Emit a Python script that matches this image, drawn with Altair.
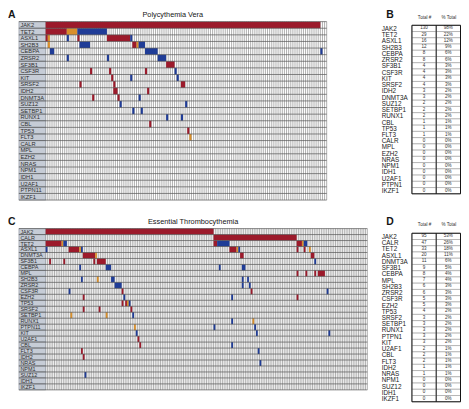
import json
import altair as alt
import pandas as pd

FONT = "Liberation Sans"
KINDS = ["missense", "truncating", "other"]
KIND_COLORS = ["#9c1a2b", "#1f3c97", "#d98f2a"]

# ---------------- Polycythemia Vera ----------------
PV_GENES = ["JAK2", "TET2", "ASXL1", "SH2B3", "CEBPA", "ZRSR2", "SF3B1", "CSF3R", "KIT",
            "SRSF2", "IDH2", "DNMT3A", "SUZ12", "SETBP1", "RUNX1", "CBL", "TP53", "FLT3",
            "CALR", "MPL", "EZH2", "NRAS", "NPM1", "IDH1", "U2AF1", "PTPN11", "IKZF1"]
PV_PATIENTS = 133
PV_SEGMENTS = [
    ("JAK2", 0, 130, "missense"),
    ("TET2", 0, 10, "missense"), ("TET2", 10, 15, "other"), ("TET2", 15, 29, "truncating"),
    ("ASXL1", 0, 1, "missense"), ("ASXL1", 1, 2, "other"), ("ASXL1", 10, 11, "truncating"),
    ("ASXL1", 15, 16, "missense"), ("ASXL1", 29, 40, "missense"), ("ASXL1", 40, 41, "truncating"),
    ("SH2B3", 1, 2, "other"), ("SH2B3", 16, 21, "truncating"), ("SH2B3", 41, 43, "missense"),
    ("SH2B3", 43, 44, "other"), ("SH2B3", 44, 47, "truncating"),
    ("CEBPA", 2, 4, "truncating"), ("CEBPA", 47, 53, "truncating"), ("CEBPA", 130, 131, "truncating"),
    ("ZRSR2", 10, 11, "truncating"), ("ZRSR2", 29, 30, "truncating"), ("ZRSR2", 53, 57, "truncating"),
    ("SF3B1", 57, 61, "missense"),
    ("CSF3R", 21, 22, "missense"), ("CSF3R", 30, 31, "missense"), ("CSF3R", 47, 48, "missense"),
    ("CSF3R", 61, 62, "truncating"),
    ("KIT", 31, 32, "missense"), ("KIT", 40, 41, "truncating"), ("KIT", 62, 63, "truncating"),
    ("SRSF2", 16, 17, "missense"), ("SRSF2", 32, 33, "missense"), ("SRSF2", 64, 66, "missense"),
    ("IDH2", 32, 34, "missense"), ("IDH2", 48, 49, "missense"),
    ("DNMT3A", 22, 23, "missense"), ("DNMT3A", 34, 35, "missense"), ("DNMT3A", 44, 45, "truncating"),
    ("SUZ12", 35, 36, "truncating"), ("SUZ12", 66, 67, "truncating"),
    ("SETBP1", 41, 42, "truncating"), ("SETBP1", 45, 46, "truncating"),
    ("RUNX1", 57, 58, "truncating"), ("RUNX1", 64, 65, "truncating"),
    ("CBL", 49, 50, "missense"),
    ("TP53", 67, 68, "missense"),
    ("FLT3", 68, 69, "other"),
]
PV_TABLE_GENES = ["JAK2", "TET2", "ASXL1", "SH2B3", "CEBPA", "ZRSR2", "SF3B1", "CSF3R", "KIT",
                  "SRSF2", "IDH2", "DNMT3A", "SUZ12", "SETBP1", "RUNX1", "CBL", "TP53", "FLT3",
                  "CALR", "MPL", "EZH2", "NRAS", "NPM1", "IDH1", "U2AF1", "PTPN1", "IKZF1"]
PV_TOTAL = [130, 29, 16, 12, 8, 8, 4, 4, 4, 4, 3, 3, 2, 2, 2, 1, 1, 1, 0, 0, 0, 0, 0, 0, 0, 0, 0]
PV_PCT = ["98%", "22%", "12%", "9%", "6%", "6%", "3%", "3%", "3%", "3%", "2%", "2%", "2%", "2%",
          "2%", "1%", "1%", "1%", "0%", "0%", "0%", "0%", "0%", "0%", "0%", "0%", "0%"]

# ---------------- Essential Thrombocythemia ----------------
ET_GENES = ["JAK2", "CALR", "TET2", "ASXL1", "DNMT3A", "SF3B1", "CEBPA", "MPL", "SH2B3",
            "ZRSR2", "CSF3R", "EZH2", "TP53", "SRSF2", "SETBP1", "RUNX1", "PTPN11", "KIT",
            "U2AF1", "CBL", "FLT3", "IDH2", "NRAS", "NPM1", "SUZ12", "IDH1", "IKZF1"]
ET_PATIENTS = 182
ET_SEGMENTS = [
    ("JAK2", 0, 95, "missense"),
    ("CALR", 95, 142, "missense"),
    ("TET2", 0, 9, "missense"), ("TET2", 9, 10, "other"), ("TET2", 10, 12, "truncating"),
    ("TET2", 95, 97, "missense"), ("TET2", 97, 104, "truncating"),
    ("TET2", 142, 145, "missense"), ("TET2", 145, 146, "other"), ("TET2", 146, 148, "truncating"),
    ("ASXL1", 0, 1, "truncating"), ("ASXL1", 13, 19, "missense"), ("ASXL1", 19, 20, "other"),
    ("ASXL1", 20, 21, "truncating"), ("ASXL1", 104, 108, "missense"), ("ASXL1", 108, 109, "other"),
    ("ASXL1", 109, 110, "truncating"), ("ASXL1", 142, 143, "missense"), ("ASXL1", 146, 147, "missense"),
    ("ASXL1", 149, 150, "other"),
    ("DNMT3A", 21, 28, "missense"), ("DNMT3A", 28, 29, "other"), ("DNMT3A", 110, 112, "missense"),
    ("DNMT3A", 150, 152, "missense"),
    ("SF3B1", 2, 3, "missense"), ("SF3B1", 10, 11, "missense"), ("SF3B1", 27, 28, "missense"),
    ("SF3B1", 29, 34, "missense"), ("SF3B1", 152, 153, "truncating"),
    ("CEBPA", 19, 20, "truncating"), ("CEBPA", 34, 37, "truncating"), ("CEBPA", 98, 99, "truncating"),
    ("CEBPA", 111, 113, "truncating"),
    ("MPL", 142, 143, "missense"), ("MPL", 147, 148, "missense"), ("MPL", 152, 153, "missense"),
    ("MPL", 154, 158, "missense"),
    ("SH2B3", 20, 21, "truncating"), ("SH2B3", 29, 30, "other"), ("SH2B3", 37, 39, "truncating"),
    ("SH2B3", 111, 112, "truncating"), ("SH2B3", 114, 115, "truncating"),
    ("ZRSR2", 39, 43, "truncating"), ("ZRSR2", 111, 112, "truncating"), ("ZRSR2", 115, 116, "truncating"),
    ("CSF3R", 13, 14, "truncating"), ("CSF3R", 43, 44, "missense"), ("CSF3R", 116, 117, "missense"),
    ("CSF3R", 159, 160, "truncating"),
    ("EZH2", 21, 22, "missense"), ("EZH2", 44, 45, "truncating"), ("EZH2", 105, 106, "truncating"),
    ("EZH2", 142, 143, "missense"),
    ("TP53", 43, 44, "missense"), ("TP53", 45, 46, "missense"), ("TP53", 46, 47, "other"),
    ("TP53", 47, 48, "truncating"),
    ("SRSF2", 21, 22, "missense"), ("SRSF2", 30, 31, "missense"), ("SRSF2", 48, 49, "missense"),
    ("SETBP1", 14, 15, "other"), ("SETBP1", 34, 35, "other"), ("SETBP1", 49, 50, "truncating"),
    ("RUNX1", 105, 106, "truncating"), ("RUNX1", 117, 118, "other"),
    ("PTPN11", 50, 51, "other"), ("PTPN11", 95, 96, "truncating"), ("PTPN11", 118, 119, "truncating"),
    ("KIT", 51, 52, "truncating"), ("KIT", 119, 120, "truncating"), ("KIT", 160, 161, "truncating"),
    ("U2AF1", 52, 53, "missense"),
    ("CBL", 53, 54, "missense"), ("CBL", 105, 106, "truncating"),
    ("FLT3", 20, 21, "missense"), ("FLT3", 120, 121, "truncating"),
    ("IDH2", 21, 22, "missense"),
    ("NRAS", 121, 122, "truncating"),
    ("SUZ12", 22, 23, "truncating"),
]
ET_TABLE_GENES = ["JAK2", "CALR", "TET2", "ASXL1", "DNMT3A", "SF3B1", "CEBPA", "MPL", "SH2B3",
                  "ZRSR2", "CSF3R", "EZH2", "TP53", "SRSF2", "SETBP1", "RUNX1", "PTPN1", "KIT",
                  "U2AF1", "CBL", "FLT3", "IDH2", "NRAS", "NPM1", "SUZ12", "IDH1", "IKZF1"]
ET_TOTAL = [95, 47, 33, 20, 11, 9, 8, 7, 6, 6, 5, 5, 4, 3, 3, 3, 3, 3, 2, 2, 2, 1, 1, 0, 0, 0, 0]
ET_PCT = ["53%", "26%", "18%", "11%", "6%", "5%", "4%", "4%", "3%", "3%", "3%", "3%", "2%", "2%",
          "2%", "2%", "2%", "2%", "1%", "1%", "1%", "1%", "1%", "0%", "0%", "0%", "0%"]

TABLE_HEADERS = ["Total #", "% Total"]

# ---------------- layout sizes (pixels) ----------------
LABEL_W = 27


def annotation(text, x, y, size, weight, align):
    return alt.Chart(pd.DataFrame({"t": [text]})).mark_text(
        align=align, baseline="alphabetic", fontSize=size, fontWeight=weight, font=FONT,
        color="#151515").encode(x=alt.value(x), y=alt.value(y), text="t:N")


def grid_panel(genes, n, segments, grid_w, height, title, letter, label_size):
    nrow = len(genes)
    width = LABEL_W + grid_w
    lab_units = LABEL_W * n / grid_w
    idx = {g: i for i, g in enumerate(genes)}
    rows = pd.DataFrame({"gene": genes,
                         "r0": list(range(nrow)),
                         "r1": [i + 1 for i in range(nrow)],
                         "rm": [i + 0.5 for i in range(nrow)],
                         "lx0": [-lab_units] * nrow,
                         "lx1": [0] * nrow})
    vcols = pd.DataFrame({"c": list(range(n + 1))})
    hrows = pd.DataFrame({"r": list(range(nrow + 1))})
    seg = pd.DataFrame(segments, columns=["gene", "start", "end", "kind"])
    seg["r0"] = seg["gene"].map(idx)
    seg["r1"] = seg["r0"] + 1

    xs = alt.Scale(domain=[-lab_units, n], nice=False, zero=False)
    ys = alt.Scale(domain=[0, nrow], reverse=True, nice=False, zero=False)

    vlines = alt.Chart(vcols).mark_rule(color="#7c7c7c", strokeWidth=0.6).encode(
        x=alt.X("c:Q", scale=xs, axis=None))
    labels_bg = alt.Chart(rows).mark_rect(fill="#c6ccd6", stroke="#7d828c", strokeWidth=0.5).encode(
        x=alt.X("lx0:Q", scale=xs, axis=None), x2="lx1:Q",
        y=alt.Y("r0:Q", scale=ys, axis=None), y2="r1:Q")
    labels_tx = alt.Chart(rows).mark_text(align="left", baseline="middle", dx=1.5,
                                          fontSize=label_size, font=FONT, color="#2f2f2f").encode(
        x=alt.X("lx0:Q", scale=xs, axis=None),
        y=alt.Y("rm:Q", scale=ys, axis=None), text="gene:N")
    rects = alt.Chart(seg).mark_rect().encode(
        x=alt.X("start:Q", scale=xs, axis=None), x2="end:Q",
        y=alt.Y("r0:Q", scale=ys, axis=None), y2="r1:Q",
        color=alt.Color("kind:N", scale=alt.Scale(domain=KINDS, range=KIND_COLORS), legend=None))
    hlines = alt.Chart(hrows).mark_rule(color="#555555", strokeWidth=0.7).encode(
        y=alt.Y("r:Q", scale=ys, axis=None))
    letter_mark = annotation(letter, -11, -3.2, 10.5, "bold", "left")
    title_mark = annotation(title, width / 2, -4.8, 7.4, "normal", "center")

    return alt.layer(vlines, labels_bg, labels_tx, rects, hlines, letter_mark, title_mark).properties(
        width=width, height=height)


def table_panel(genes, totals, pcts, height, header_px, letter):
    nrow = len(genes)
    row_px = (height - header_px) / nrow
    head_units = header_px / row_px
    rows = pd.DataFrame({"gene": genes,
                         "r0": list(range(nrow)),
                         "r1": [i + 1 for i in range(nrow)],
                         "rm": [i + 0.5 for i in range(nrow)],
                         "total": [str(v) for v in totals],
                         "pct": pcts})
    cells = []
    for _, r in rows.iterrows():
        for c, key in enumerate(["total", "pct"]):
            cells.append({"r0": r["r0"], "r1": r["r1"], "rm": r["rm"],
                          "c0": c, "c1": c + 1, "cm": c + 0.5, "val": r[key]})
    cells = pd.DataFrame(cells)
    frame = pd.DataFrame({"c0": [0], "c1": [len(TABLE_HEADERS)], "r0": [0], "r1": [nrow], "cd": [1]})

    xs = alt.Scale(domain=[0, len(TABLE_HEADERS)], nice=False, zero=False)
    ys = alt.Scale(domain=[-head_units, nrow], reverse=True, nice=False, zero=False)
    head_expr = json.dumps(TABLE_HEADERS).replace('"', "'") + "[floor(datum.value)]"
    gene_expr = json.dumps(genes).replace('"', "'") + "[floor(datum.value)]"
    xax = alt.Axis(orient="top", values=[i + 0.5 for i in range(len(TABLE_HEADERS))],
                   labelExpr=head_expr, ticks=False, domain=False, grid=False,
                   labelFontSize=4.6, labelFont=FONT, labelColor="#333", labelPadding=1.8,
                   labelOverlap=False, labelFlush=False, labelBound=False, title=None)
    yax = alt.Axis(orient="left", values=[i + 0.5 for i in range(nrow)],
                   labelExpr=gene_expr, ticks=False, tickSize=0, domain=False, grid=False,
                   labelAlign="left", labelBaseline="middle", labelPadding=31,
                   labelFontSize=6.4, labelFont=FONT, labelColor="#1a1a1a",
                   labelOverlap=False, labelFlush=False, labelBound=False, title=None)

    cell_marks = alt.Chart(cells).mark_rect(fill="white", stroke="#9a9a9a", strokeWidth=0.6).encode(
        x=alt.X("c0:Q", scale=xs, axis=xax), x2="c1:Q",
        y=alt.Y("r0:Q", scale=ys, axis=yax), y2="r1:Q")
    cell_text = alt.Chart(cells).mark_text(fontSize=4.6, font=FONT, color="#333",
                                           baseline="middle").encode(
        x=alt.X("cm:Q", scale=xs, axis=xax),
        y=alt.Y("rm:Q", scale=ys, axis=yax), text="val:N")
    divider = alt.Chart(frame).mark_rule(color="#111", strokeWidth=0.9).encode(
        x=alt.X("cd:Q", scale=xs, axis=xax),
        y=alt.Y("r0:Q", scale=ys, axis=yax), y2="r1:Q")
    border = alt.Chart(frame).mark_rect(fill="transparent", stroke="#111", strokeWidth=1).encode(
        x=alt.X("c0:Q", scale=xs, axis=xax), x2="c1:Q",
        y=alt.Y("r0:Q", scale=ys, axis=yax), y2="r1:Q")
    letter_mark = annotation(letter, -26, -3.2, 10.5, "bold", "left")
    return alt.layer(cell_marks, cell_text, divider, border, letter_mark).properties(
        width=49, height=height)


pv = grid_panel(PV_GENES, PV_PATIENTS, PV_SEGMENTS, 283.5, 180, "Polycythemia Vera", "A", 5.8)
et = grid_panel(ET_GENES, ET_PATIENTS, ET_SEGMENTS, 324.5, 162.7, "Essential Thrombocythemia", "C", 5.5)
tab_b = table_panel(PV_TABLE_GENES, PV_TOTAL, PV_PCT, 173.7, 3.7, "B")
tab_d = table_panel(ET_TABLE_GENES, ET_TOTAL, ET_PCT, 174.7, 4.7, "D")

chart = alt.concat(pv, tab_b, et, tab_d, columns=2,
                   spacing={"row": 28.8, "column": 44.5}, bounds="flush").properties(
    padding=0, background="white").configure_view(strokeWidth=0)

chart.save("out.html", embed_options={"renderer": "svg", "actions": False})
